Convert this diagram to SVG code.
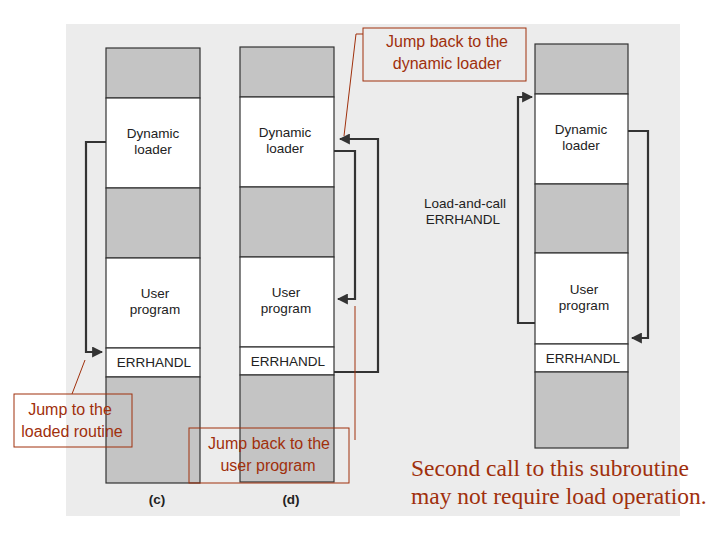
<svg xmlns="http://www.w3.org/2000/svg" width="720" height="540" viewBox="0 0 720 540">
<style>
.g{fill:#c4c4c4;stroke:#333;stroke-width:1.2}
.w{fill:#fff;stroke:#333;stroke-width:1.2}
.t{font-family:"Liberation Sans",Arial,sans-serif;font-size:13.5px;fill:#222;text-anchor:middle}
.r{font-family:"Liberation Sans",Arial,sans-serif;font-size:16px;fill:#a0300c;text-anchor:middle}
.box{fill:none;stroke:#a0300c;stroke-width:1}
.ln{fill:none;stroke:#333;stroke-width:2.2}
.ld{fill:none;stroke:#a0300c;stroke-width:1}
</style>
<defs><marker id="a" viewBox="0 0 10 10" refX="9" refY="5" markerWidth="5" markerHeight="5" orient="auto"><path d="M0,0L10,5L0,10z" fill="#333"/></marker></defs>
<rect x="0" y="0" width="720" height="540" fill="#fff"/>
<rect x="66" y="24" width="614" height="492" fill="#ececec"/>
<g id="colC">
<rect class="g" x="106" y="48" width="94" height="50"/>
<rect class="w" x="106" y="98" width="94" height="90"/>
<rect class="g" x="106" y="188" width="94" height="70"/>
<rect class="w" x="106" y="258" width="94" height="90"/>
<rect class="w" x="106" y="348" width="94" height="29"/>
<rect class="g" x="106" y="377" width="94" height="106"/>
<text class="t" x="153" y="138">Dynamic</text><text class="t" x="153" y="154">loader</text>
<text class="t" x="155" y="298">User</text><text class="t" x="155" y="314">program</text>
<text class="t" x="154" y="367">ERRHANDL</text>
<text class="t" x="157" y="504" font-weight="bold">(c)</text>
</g>
<g id="colD">
<rect class="g" x="240" y="47" width="94" height="50"/>
<rect class="w" x="240" y="97" width="94" height="90"/>
<rect class="g" x="240" y="187" width="94" height="70"/>
<rect class="w" x="240" y="257" width="94" height="90"/>
<rect class="w" x="240" y="347" width="94" height="28"/>
<rect class="g" x="240" y="375" width="94" height="107"/>
<text class="t" x="285" y="137">Dynamic</text><text class="t" x="285" y="153">loader</text>
<text class="t" x="286" y="297">User</text><text class="t" x="286" y="313">program</text>
<text class="t" x="288" y="366">ERRHANDL</text>
<text class="t" x="291" y="504" font-weight="bold">(d)</text>
</g>
<g id="colE">
<rect class="g" x="535" y="44" width="93" height="50"/>
<rect class="w" x="535" y="94" width="93" height="90"/>
<rect class="g" x="535" y="184" width="93" height="69"/>
<rect class="w" x="535" y="253" width="93" height="91"/>
<rect class="w" x="535" y="344" width="93" height="28"/>
<rect class="g" x="535" y="372" width="93" height="76"/>
<text class="t" x="581" y="134">Dynamic</text><text class="t" x="581" y="150">loader</text>
<text class="t" x="584" y="294">User</text><text class="t" x="584" y="310">program</text>
<text class="t" x="583" y="363">ERRHANDL</text>
<text class="t" x="465" y="208">Load-and-call</text><text class="t" x="463" y="224">ERRHANDL</text>
</g>
<g id="connectors">
<path class="ln" d="M106,142H86V352H102" marker-end="url(#a)"/>
<path class="ln" d="M334,372H378V139H340" marker-end="url(#a)"/>
<path class="ln" d="M334,151H355V299H338" marker-end="url(#a)"/>
<path class="ln" d="M535,323H518V97H532" marker-end="url(#a)"/>
<path class="ln" d="M628,131H648V338H632" marker-end="url(#a)"/>
<path class="ld" d="M85,360L72,394"/>
<path class="ld" d="M363,34H356L344,136"/>
<path class="ld" d="M355,306V440"/>
</g>
<g id="labels">
<rect class="box" x="363" y="28" width="163" height="53"/>
<text class="r" x="447" y="47">Jump back to the</text><text class="r" x="447" y="69">dynamic loader</text>
<rect class="box" x="14" y="394" width="118" height="53"/>
<text class="r" x="70" y="415">Jump to the</text><text class="r" x="72" y="437">loaded routine</text>
<rect class="box" x="189" y="428" width="160" height="55"/>
<text class="r" x="269" y="449">Jump back to the</text><text class="r" x="268" y="471">user program</text>
<text x="411" y="476" font-family="Liberation Serif,serif" font-size="23.5" fill="#a0300c">Second call to this subroutine</text>
<text x="411" y="504" font-family="Liberation Serif,serif" font-size="23.5" fill="#a0300c">may not require load operation.</text>
</g>
</svg>
